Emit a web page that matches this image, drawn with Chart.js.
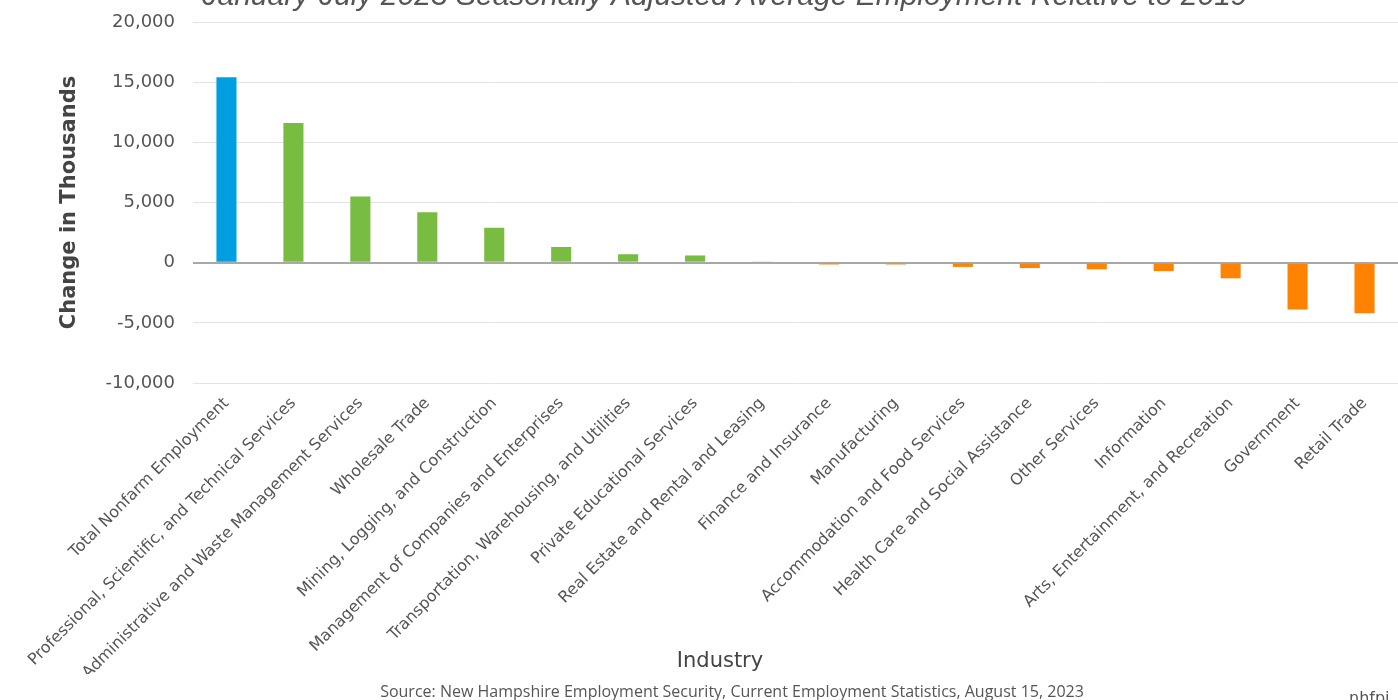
<!DOCTYPE html>
<html>
<head>
<meta charset="utf-8">
<script src="https://cdn.jsdelivr.net/npm/chart.js@4"></script>
<style>
  html, body { margin: 0; padding: 0; background: #fff; overflow: hidden; }
  #wrap { position: relative; width: 1398px; height: 700px; }
  #chart { position: absolute; left: 0; top: 0; }
  .xtitle {
    position: absolute; left: 620px; width: 200px; top: 648px;
    text-align: center; font: 21px "DejaVu Sans", sans-serif; color: #444;
  }
  .source {
    position: absolute; left: 232px; width: 1000px; top: 680px;
    text-align: center; font: 16px "Open Sans", sans-serif; color: #555;
    white-space: nowrap;
  }
  .brand {
    position: absolute; left: 1349px; top: 688px;
    font: 16px "DejaVu Sans", sans-serif; color: #555;
  }
</style>
</head>
<body>
<div id="wrap">
  <canvas id="chart" width="1398" height="700"></canvas>
  <div class="xtitle">Industry</div>
  <div class="source">Source: New Hampshire Employment Security, Current Employment Statistics, August 15, 2023</div>
  <div class="brand">nhfpi</div>
</div>
<script>
const industries = [
  'Total Nonfarm Employment',
  'Professional, Scientific, and Technical Services',
  'Administrative and Waste Management Services',
  'Wholesale Trade',
  'Mining, Logging, and Construction',
  'Management of Companies and Enterprises',
  'Transportation, Warehousing, and Utilities',
  'Private Educational Services',
  'Real Estate and Rental and Leasing',
  'Finance and Insurance',
  'Manufacturing',
  'Accommodation and Food Services',
  'Health Care and Social Assistance',
  'Other Services',
  'Information',
  'Arts, Entertainment, and Recreation',
  'Government',
  'Retail Trade',
];

// change vs 2019, thousands
const change = [
  15400, 11600, 5500, 4200, 2900, 1300, 700, 600, 100,
  -150, -150, -350, -450, -550, -700, -1300, -3900, -4200,
];

const yTicks = [-10000, -5000, 0, 5000, 10000, 15000, 20000];

const TOTAL = '#009fdf', GAIN = '#78bc42', LOSS = '#ff8200';
const colors = change.map((v, i) => i === 0 ? TOTAL : (v >= 0 ? GAIN : LOSS));

// chart title, clipped by the top edge of the canvas
const topTitle = {
  id: 'topTitle',
  afterDraw(chart) {
    const ctx = chart.ctx;
    ctx.save();
    ctx.font = 'italic 30px "Liberation Sans", Arial, sans-serif';
    ctx.fillStyle = '#555';
    ctx.textAlign = 'center';
    ctx.textBaseline = 'alphabetic';
    ctx.fillText('January-July 2023 Seasonally Adjusted Average Employment Relative to 2019', 725, 5);
    ctx.restore();
  }
};

new Chart(document.getElementById('chart'), {
  type: 'bar',
  data: {
    labels: industries,
    datasets: [{
      data: change,
      backgroundColor: colors,
      borderWidth: 0,
      barPercentage: 0.3,
      categoryPercentage: 1,
    }],
  },
  options: {
    responsive: false,
    animation: false,
    layout: { padding: { top: 22, right: 0, bottom: 26, left: 0 } },
    plugins: { legend: { display: false }, tooltip: { enabled: false } },
    scales: {
      x: {
        grid: { display: false },
        border: { display: false },
        ticks: {
          autoSkip: false,
          minRotation: 45,
          maxRotation: 45,
          color: '#555',
          font: { family: 'DejaVu Sans', size: 16 },
        },
        afterFit(scale) { scale.height = 291; },
      },
      y: {
        min: -10000,
        max: 20000,
        afterBuildTicks(scale) { scale.ticks = yTicks.map(v => ({ value: v })); },
        afterFit(scale) {
          scale.width = 193;
          scale.paddingTop = 0;
          scale.paddingBottom = 0;
        },
        grid: {
          color: ctx => ctx.tick && ctx.tick.value === 0 ? '#a8a8a8' : '#e3e3e3',
          lineWidth: ctx => ctx.tick && ctx.tick.value === 0 ? 2 : 1,
          drawTicks: false,
        },
        border: { display: false },
        ticks: {
          padding: 18,
          color: '#555',
          font: { family: 'DejaVu Sans', size: 18 },
          callback: v => v.toLocaleString('en-US'),
        },
        title: {
          display: true,
          text: 'Change in Thousands',
          color: '#444',
          font: { family: 'DejaVu Sans', size: 21, weight: 'bold' },
          padding: { top: 57, bottom: 0 },
        },
      },
    },
  },
  plugins: [topTitle],
});
</script>
</body>
</html>
